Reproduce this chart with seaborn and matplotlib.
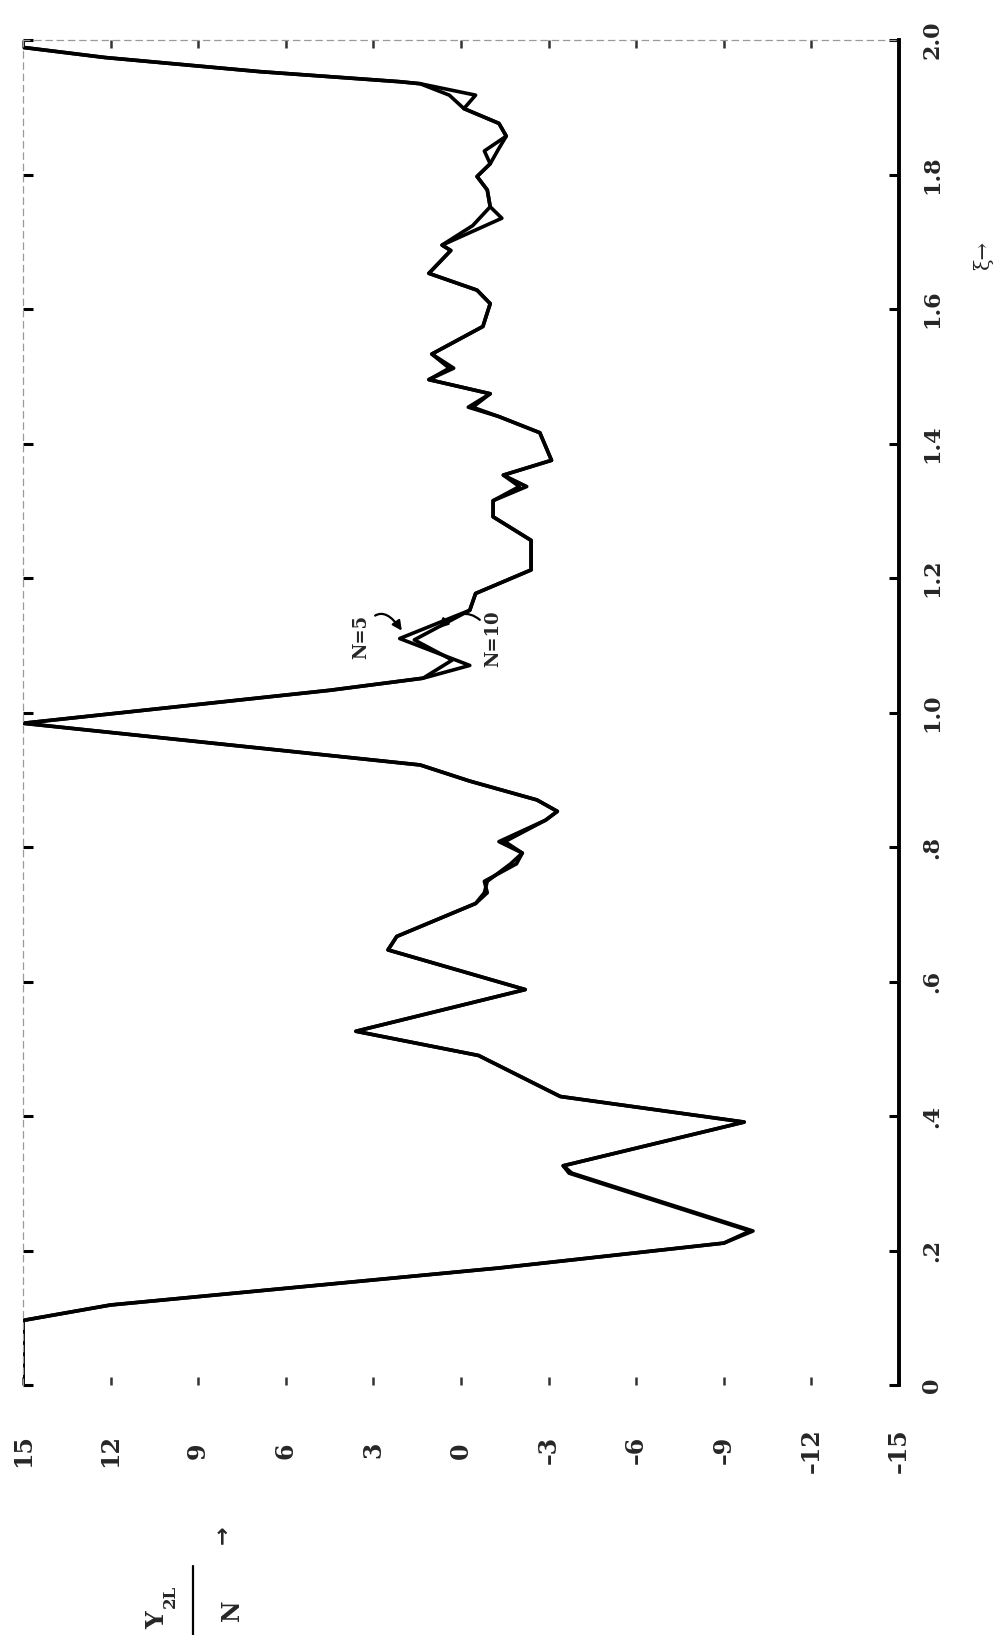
import matplotlib
matplotlib.use("Agg")
import matplotlib.pyplot as plt
from matplotlib.lines import Line2D
import numpy as np
import pandas as pd
import seaborn as sns

# ---------------- data ----------------
# Y_2L/N values and the corresponding xi values, curve N=5
y_n5 = [15, 15, 12.0, -1.3, -9.0, -10.0, -3.8, -3.5, -9.7, -3.4, -0.6, 3.6, -2.2,
        2.5, 2.2, -0.5, -0.9, -0.8, -1.9, -2.1, -1.3, -2.9, -3.3, -2.6, -0.3, 1.4,
        15, 4.5, 1.3, -0.3, 2.1, -0.3, -0.5, -2.4, -2.4, -1.1, -1.1, -2.25, -1.45,
        -3.1, -2.7, -1.3, -0.25, -1.0, 1.1, 0.25, 1.0, -0.75, -1.0, -0.55, 1.1,
        0.35, 0.65, -1.4, -1.0, -0.9, -0.55, -1.0, -1.3, -1.55, -1.3, -0.1, -0.5,
        1.4, 2.1, 6.9, 12.2, 15, 15]
xi_n5 = [0.0, 0.096, 0.119, 0.174, 0.211, 0.229, 0.315, 0.326, 0.391, 0.429, 0.490,
         0.526, 0.588, 0.647, 0.667, 0.716, 0.732, 0.749, 0.775, 0.791, 0.808, 0.840,
         0.853, 0.870, 0.898, 0.922, 0.984, 1.033, 1.051, 1.070, 1.110, 1.152, 1.177,
         1.212, 1.256, 1.291, 1.315, 1.336, 1.353, 1.375, 1.416, 1.440, 1.454, 1.474,
         1.495, 1.512, 1.533, 1.574, 1.608, 1.628, 1.653, 1.687, 1.695, 1.735, 1.752,
         1.777, 1.797, 1.816, 1.839, 1.857, 1.876, 1.898, 1.918, 1.935, 1.938, 1.953,
         1.974, 1.989, 2.0]

# curve N=10
y_n10 = [15, 15, 12.0, -1.3, -9.0, -9.9, -3.7, -3.5, -9.7, -3.4, -0.6, 3.6, -2.2,
         2.5, 2.2, -0.5, -0.8, -0.9, -1.7, -2.1, -1.5, -2.9, -3.3, -2.6, -0.3, 1.4,
         15, 4.5, 1.3, 0.3, 1.6, -0.3, -0.5, -2.4, -2.4, -1.1, -1.1, -2.0, -1.45,
         -3.1, -2.7, -1.3, -0.4, -1.0, 1.1, 0.4, 1.0, -0.75, -1.0, -0.55, 1.1,
         0.35, 0.65, -0.4, -1.0, -0.9, -0.55, -1.0, -0.8, -1.55, -1.3, -0.1, 0.4,
         1.4, 2.1, 6.9, 12.2, 15, 15]
xi_n10 = [0.0, 0.096, 0.119, 0.174, 0.211, 0.229, 0.315, 0.326, 0.391, 0.429, 0.490,
          0.526, 0.588, 0.647, 0.667, 0.716, 0.732, 0.749, 0.775, 0.791, 0.808, 0.840,
          0.853, 0.870, 0.898, 0.922, 0.984, 1.033, 1.051, 1.078, 1.108, 1.152, 1.177,
          1.212, 1.256, 1.291, 1.315, 1.336, 1.353, 1.375, 1.416, 1.440, 1.454, 1.474,
          1.495, 1.512, 1.533, 1.574, 1.608, 1.628, 1.653, 1.687, 1.695, 1.724, 1.752,
          1.777, 1.797, 1.816, 1.835, 1.857, 1.876, 1.898, 1.918, 1.935, 1.938, 1.953,
          1.974, 1.989, 2.0]

y_ticks = [15, 12, 9, 6, 3, 0, -3, -6, -9, -12, -15]
y_tick_labels = ["15", "12", "9", "6", "3", "0", "–3", "–6", "–9", "–12", "–15"]
xi_ticks = [0, 0.2, 0.4, 0.6, 0.8, 1.0, 1.2, 1.4, 1.6, 1.8, 2.0]
xi_tick_labels = ["0", ".2", ".4", ".6", ".8", "1.0", "1.2", "1.4", "1.6", "1.8", "2.0"]

# ---------------- styling ----------------
sns.set_style("white")
plt.rcParams["font.family"] = ["DejaVu Serif", "DejaVu Sans"]

W, H = 999, 1635
fig = plt.figure(figsize=(W / 100, H / 100), dpi=100)
ax_left, ax_right, ax_top, ax_bot = 23, 899, 40, 1385
ax = fig.add_axes([ax_left / W, 1 - ax_bot / H, (ax_right - ax_left) / W, (ax_bot - ax_top) / H])

df = pd.concat([
    pd.DataFrame({"Y": y_n5, "xi": xi_n5, "N": "N=5"}),
    pd.DataFrame({"Y": y_n10, "xi": xi_n10, "N": "N=10"}),
], ignore_index=True)

sns.lineplot(data=df, x="Y", y="xi", hue="N", palette=["black", "black"],
             sort=False, estimator=None, lw=2.6, legend=False, ax=ax)

ax.set_xlim(15, -15)
ax.set_ylim(0, 2.0)
ax.set_xlabel("")
ax.set_ylabel("")

ax.set_xticks(y_ticks)
ax.set_xticklabels(y_tick_labels, rotation=90, fontsize=17, fontweight="bold", va="center")
ax.set_yticks(xi_ticks)
ax.set_yticklabels(xi_tick_labels, rotation=90, fontsize=16, fontweight="bold",
                   va="center", ha="center")

ax.tick_params(axis="x", bottom=True, top=True, direction="in", length=6, width=1.8,
               color="#333333", pad=47)
ax.tick_params(axis="y", left=True, right=True, labelleft=False, labelright=True,
               direction="in", length=7, width=2.2, color="black", pad=24)

for sp in ["left", "top"]:
    ax.spines[sp].set_linestyle((0, (5, 4)))
    ax.spines[sp].set_color("#9a9a9a")
    ax.spines[sp].set_linewidth(0.9)
ax.spines["bottom"].set_visible(False)
ax.spines["right"].set_color("black")
ax.spines["right"].set_linewidth(2.8)

# axis titles (rotated like the page)
fig.text(983 / W, 1 - 255 / H, "ξ→", rotation=90, ha="center", va="center",
         fontsize=15)
fig.text(157 / W, 1 - 1620 / H, "Y", rotation=90, ha="center", va="center",
         fontsize=18, fontweight="bold")
fig.text(170 / W, 1 - 1596 / H, "2L", rotation=90, ha="center", va="center",
         fontsize=12, fontweight="bold")
fig.text(232 / W, 1 - 1610 / H, "N", rotation=90, ha="center", va="center",
         fontsize=17, fontweight="bold")
fig.add_artist(Line2D([193 / W, 193 / W], [1 - 1566 / H, 1 - 1635 / H],
                      transform=fig.transFigure, color="black", lw=1.6))
fig.text(222 / W, 1 - 1535 / H, "→", rotation=90, ha="center", va="center",
         fontsize=16, fontweight="bold", family=["DejaVu Sans"])

# annotations
ax.annotate("N=5", xy=(2.0, 1.12), xytext=(3.4, 1.112), rotation=90,
            ha="center", va="center", fontsize=13, fontweight="bold",
            arrowprops=dict(arrowstyle="-|>", color="black", lw=1.6,
                            connectionstyle="arc3,rad=-1.0", shrinkA=1, shrinkB=1,
                            mutation_scale=14))
ax.annotate("N=10", xy=(0.8, 1.124), xytext=(-1.1, 1.110), rotation=90,
            ha="center", va="center", fontsize=13, fontweight="bold",
            arrowprops=dict(arrowstyle="-|>", color="black", lw=1.6,
                            connectionstyle="arc3,rad=0.7", shrinkA=1, shrinkB=1,
                            mutation_scale=14))

fig.savefig("out.png", dpi=100, facecolor="white")
